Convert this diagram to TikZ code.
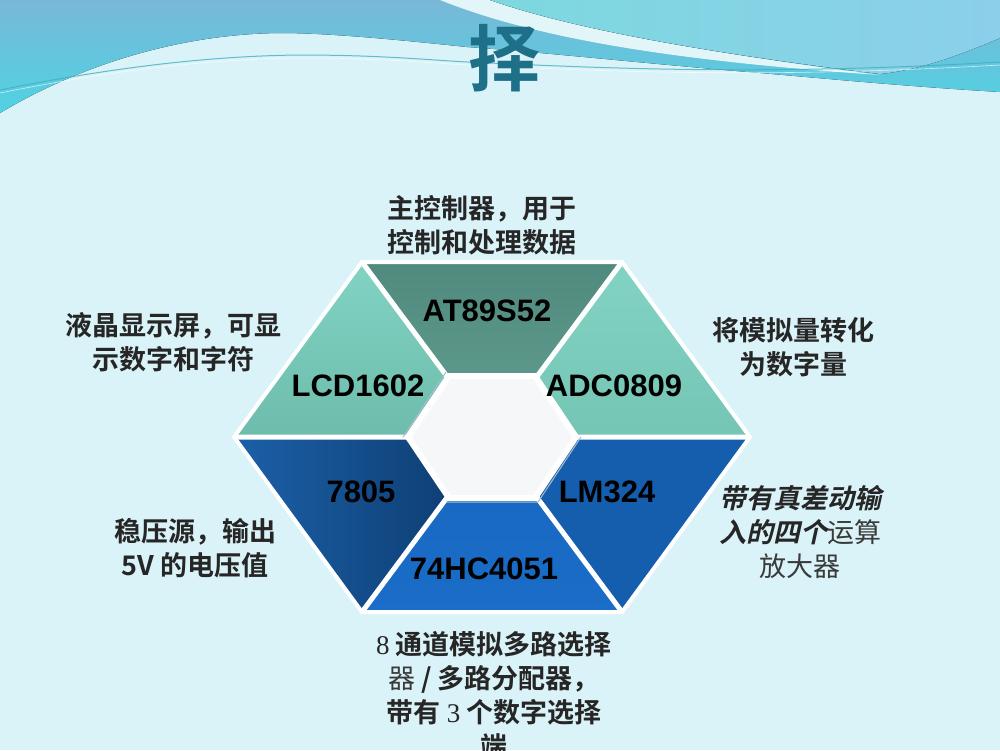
\documentclass[tikz,border=0pt]{standalone}
\usepackage{fontspec}
\usetikzlibrary{calc}
\setmainfont{Liberation Sans}
\newfontfamily\cjk{Noto Sans CJK SC}
\newfontfamily\cjkb{Noto Sans CJK SC}[UprightFont=* Bold]
\newfontfamily\cjkit{Noto Sans CJK SC}[UprightFont=* Bold, FakeSlant=0.22]
\newfontfamily\labfont{Liberation Sans}
\newfontfamily\numfont{Liberation Serif}
\definecolor{bgc}{HTML}{DAF3F8}
\definecolor{waveTop}{HTML}{78B8D7}
\definecolor{waveBot}{HTML}{50D2E3}
\definecolor{tealL}{HTML}{7DD8DF}
\definecolor{tealR}{HTML}{8BCFEA}
\definecolor{bandc}{HTML}{E2F6FA}
\definecolor{lightTop}{HTML}{82D3C3}
\definecolor{lightBot}{HTML}{6DBCAC}
\definecolor{darkTop}{HTML}{508A7E}
\definecolor{darkBot}{HTML}{629F91}
\definecolor{navyL}{HTML}{1C60A8}
\definecolor{navyR}{HTML}{0B396B}
\definecolor{midblue}{HTML}{1767BF}
\definecolor{midblueB}{HTML}{1A6DC8}
\definecolor{lmblue}{HTML}{145EAD}
\definecolor{innerc}{HTML}{F6F7F8}
\definecolor{titlec}{HTML}{1E7088}
\definecolor{txt}{HTML}{262626}
\definecolor{txtlight}{HTML}{3A3A3A}
\definecolor{edgec}{HTML}{A9BCD0}
\definecolor{streak}{HTML}{3FAFC0}
\tikzset{
  partlabel/.style={font=\labfont\bfseries\fontsize{31}{31}\selectfont, text=black, inner sep=0pt},
  desc/.style={font=\cjkb\fontsize{27}{34}\selectfont, text=txt, align=center, inner sep=0pt},
  gap/.style={white, line width=5pt},
}
\begin{document}
\begin{tikzpicture}[x=1pt,y=-1pt]
\useasboundingbox (0,0) rectangle (1000,750);
\fill[bgc] (0,0) rectangle (1000,750);
% top waves
\fill[top color=waveTop, bottom color=waveBot] (0,0) -- (1000,0) -- (1000,92)
  .. controls (900,86) and (820,78) .. (760,73)
  .. controls (650,64) and (540,52) .. (467,47)
  .. controls (400,40) and (330,33) .. (280,33)
  .. controls (180,34) and (80,65) .. (0,113) -- cycle;
\fill[bandc] (440,0) .. controls (530,36) and (660,60) .. (880,75)
  .. controls (700,52) and (570,28) .. (490,0) -- cycle;
\fill[left color=tealL, right color=tealR] (490,0) -- (1000,0) -- (1000,38)
  .. controls (960,55) and (920,70) .. (880,74)
  .. controls (700,52) and (570,28) .. (490,0) -- cycle;
\draw[streak, line width=1pt, opacity=0.8] (0,90) .. controls (100,70) and (200,56) .. (300,55)
  .. controls (380,55) and (430,60) .. (467,62)
  .. controls (600,68) and (760,76) .. (1000,62);
\draw[white, line width=0.6pt, opacity=0.7] (0,93) .. controls (100,73) and (200,59) .. (300,58)
  .. controls (380,58) and (430,63) .. (467,65)
  .. controls (600,71) and (760,79) .. (1000,65);
% title fragment
\node[font=\cjkb\fontsize{72}{72}\selectfont, text=titlec, inner sep=0pt] (title) at (504,58) {择};
% hexagon
\coordinate (O) at (492,437);
\coordinate (F) at (234,437);
\coordinate (A) at (362,262);
\coordinate (B) at (622,262);
\coordinate (C) at (750,437);
\coordinate (D) at (622,612);
\coordinate (E) at (362,612);
\fill[top color=lightTop, bottom color=lightBot] (F) -- (A) -- (O) -- cycle;
\fill[top color=darkTop, bottom color=darkBot] (A) -- (B) -- (O) -- cycle;
\fill[top color=lightTop, bottom color=lightBot!60!lightTop] (B) -- (C) -- (O) -- cycle;
\fill[left color=navyL, right color=navyR] (F) -- (O) -- (E) -- cycle;
\fill[top color=midblue, bottom color=midblueB] (E) -- (O) -- (D) -- cycle;
\fill[lmblue] (O) -- (C) -- (D) -- cycle;
\draw[gap] (F) -- (C) (A) -- (D) (B) -- (E);
\draw[white, line width=4pt, line join=miter] (F) -- (A) -- (B) -- (C) -- (D) -- (E) -- cycle;
\filldraw[fill=innerc, draw=white, line width=6pt]
  ($(O)+(-84,0)$) -- ($(O)+(-43,-61)$) -- ($(O)+(43,-61)$) -- ($(O)+(84,0)$)
  -- ($(O)+(43,61)$) -- ($(O)+(-43,61)$) -- cycle;
\draw[edgec, line width=1pt]
  ($(O)+(-89,0)$) -- ($(O)+(-46,-65)$) ($(O)+(46,65)$) -- ($(O)+(-46,65)$)
  ($(O)+(89,0)$) -- ($(O)+(46,65)$);
% part labels
\node[partlabel] (at) at (487,311) {AT89S52};
\node[partlabel] (lcd) at (358,386) {LCD1602};
\node[partlabel] (adc) at (614,386) {ADC0809};
\node[partlabel] (reg) at (361,492) {7805};
\node[partlabel] (lm) at (607,492) {LM324};
\node[partlabel] (mux) at (484,569) {74HC4051};
% descriptions
\node[desc] (dat) at (482,225) {主控制器，用于\\控制和处理数据};
\node[desc] (dlcd) at (173,342) {液晶显示屏，可显\\示数字和字符};
\node[desc] (dadc) at (793,347) {将模拟量转化\\为数字量};
\node[desc] (dreg) at (195,548) {稳压源，输出\\5V 的电压值};
\node[desc] (dlm) at (800,532) {{\cjkit 带有真差动输}\\{\cjkit 入的四个}{\cjk\color{txtlight}运算}\\{\cjk\color{txtlight}放大器}};
\node[desc] (dmux) at (494,695) {{\numfont 8} 通道模拟多路选择\\{\cjk\color{txtlight}器} / 多路分配器，\\带有 {\numfont 3} 个数字选择\\端};
\end{tikzpicture}
\end{document}
